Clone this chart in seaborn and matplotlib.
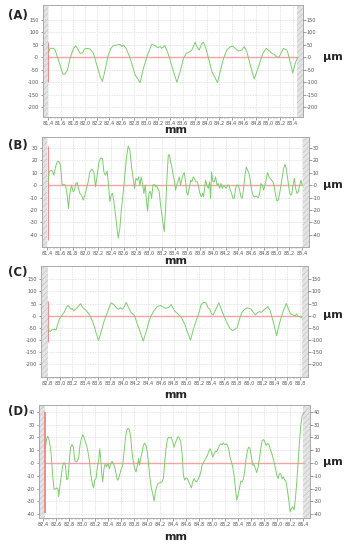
import matplotlib
matplotlib.use("Agg")
import matplotlib.pyplot as plt
import numpy as np
import pandas as pd
import seaborn as sns

# ---- profile A ----
a_mm = [81.400, 81.427, 81.482, 81.509, 81.537, 81.591, 81.635, 81.673, 81.711, 81.755,
        81.810, 81.848, 81.875, 81.919, 81.963, 81.990, 82.029, 82.083, 82.138, 82.193,
        82.247, 82.285, 82.329, 82.373, 82.422, 82.466, 82.520, 82.575, 82.602, 82.630,
        82.673, 82.739, 82.821, 82.903, 82.957, 83.023, 83.094, 83.149, 83.187, 83.231,
        83.258, 83.302, 83.340, 83.395, 83.449, 83.504, 83.558, 83.613, 83.657, 83.695,
        83.750, 83.804, 83.832, 83.870, 83.914, 83.941, 83.979, 84.023, 84.078, 84.170,
        84.214, 84.269, 84.323, 84.378, 84.422, 84.460, 84.515, 84.569, 84.608, 84.651,
        84.706, 84.772, 84.815, 84.870, 84.914, 84.968, 85.023, 85.061, 85.099, 85.132,
        85.176, 85.208, 85.252, 85.307, 85.334, 85.372, 85.405, 85.443, 85.482]
a_um = [16, 36, 36, 29, 9, -31, -68, -68, -51, -4,
        36, 45, 36, 16, 19, 33, 36, 33, 16, -31,
        -77, -97, -51, 3, 36, 47, 49, 52, 43, 49,
        36, -4, -71, -101, -44, 9, 52, 47, 39, 43,
        36, 47, 29, -11, -57, -100, -57, -4, 16, 19,
        29, 60, 43, 29, 56, 60, 36, -4, -57, -101,
        -57, -4, 29, 43, 45, 36, 25, 29, 43, 23,
        -31, -87, -57, -17, 16, 36, 25, 16, 12, 3,
        -1, 16, 36, 29, 9, -31, -63, -24, -1]

# ---- profile B ----
b_mm = [81.416, 81.431, 81.458, 81.484, 81.505, 81.531, 81.557, 81.583, 81.609, 81.636,
        81.662, 81.688, 81.714, 81.735, 81.756, 81.782, 81.808, 81.829, 81.850, 81.871,
        81.892, 81.913, 81.939, 81.965, 81.992, 82.018, 82.044, 82.070, 82.102, 82.133,
        82.159, 82.185, 82.212, 82.243, 82.269, 82.290, 82.316, 82.342, 82.363, 82.384,
        82.405, 82.426, 82.447, 82.479, 82.499, 82.515, 82.541, 82.562, 82.583, 82.604,
        82.625, 82.646, 82.672, 82.698, 82.725, 82.751, 82.772, 82.793, 82.814, 82.835,
        82.855, 82.876, 82.897, 82.918, 82.939, 82.960, 82.976, 82.997, 83.018, 83.039,
        83.060, 83.081, 83.102, 83.117, 83.138, 83.159, 83.180, 83.201, 83.222, 83.238,
        83.259, 83.280, 83.301, 83.316, 83.337, 83.358, 83.379, 83.400, 83.416, 83.431,
        83.452, 83.473, 83.494, 83.515, 83.536, 83.552, 83.573, 83.588, 83.609, 83.630,
        83.651, 83.672, 83.693, 83.714, 83.735, 83.756, 83.777, 83.798, 83.819, 83.840,
        83.855, 83.871, 83.887, 83.908, 83.929, 83.950, 83.965, 83.981, 84.002, 84.023,
        84.044, 84.065, 84.086, 84.107, 84.128, 84.149, 84.170, 84.191, 84.212, 84.232,
        84.253, 84.274, 84.295, 84.316, 84.337, 84.358, 84.379, 84.400, 84.421, 84.442,
        84.463, 84.484, 84.505, 84.526, 84.547, 84.568, 84.588, 84.609, 84.630, 84.651,
        84.672, 84.693, 84.714, 84.735, 84.756, 84.777, 84.798, 84.819, 84.840, 84.861,
        84.882, 84.903, 84.924, 84.945, 84.965, 84.986, 85.007, 85.028, 85.049, 85.070,
        85.091, 85.112, 85.133, 85.154, 85.175, 85.196, 85.217, 85.238, 85.259, 85.280,
        85.301, 85.321, 85.342, 85.363, 85.384, 85.405]
b_um = [2.7, 10.7, 12.1, 11.3, 8.0, 14.7, 18.8, 19.3, 16.1, 0.0,
        0.5, 0.0, -8.0, -18.8, -6.7, 0.0, -5.4, -4.0, 1.3, 2.1,
        -2.7, -6.7, -8.0, -12.1, -8.0, -2.7, 2.7, 10.7, 12.9, 10.7,
        -1.3, 8.0, 18.8, 22.0, 21.4, 10.7, 8.0, 11.3, 0.0, -13.4,
        -8.0, -6.7, -13.4, -26.8, -36.2, -42.9, -34.9, -21.4, -10.7, 0.0,
        10.7, 22.8, 31.6, 28.2, 14.7, 5.4, -2.7, 5.4, 4.0, 6.7,
        0.0, 6.7, 1.3, -6.7, 0.0, -13.4, -20.9, -6.7, -4.8, -10.7,
        0.0, 0.5, -1.3, 0.0, -2.7, -5.4, -16.1, -24.1, -32.2, -37.5,
        -18.8, 5.4, 24.1, 24.7, 18.8, 14.7, 8.0, 2.7, -4.0, 0.0,
        2.7, 6.7, 0.0, 5.4, 8.6, 10.2, 2.7, -5.4, -8.0, -2.7,
        4.0, 2.7, 6.7, 5.4, 2.7, 2.7, -1.3, -6.7, -9.4, -6.7,
        -9.4, -2.7, 4.0, 0.0, -2.7, 2.7, -10.7, 10.7, 2.7, 2.7,
        6.7, 0.0, 1.3, -2.7, 1.3, -2.7, 0.0, -1.3, -2.7, 0.0,
        0.0, -4.0, -6.7, -10.7, -10.7, -2.7, 0.0, 0.0, -4.0, -9.4,
        -10.7, -2.7, 8.0, 14.7, 12.1, 9.4, 4.0, -4.0, -8.0, -9.4,
        -8.8, -9.4, -10.2, -6.7, 1.3, 0.0, -4.0, 0.0, 5.4, 10.2,
        6.7, 5.4, 4.0, 2.7, -1.3, -8.0, -12.9, -12.1, -6.7, 0.0,
        6.7, 13.4, 16.9, 13.4, 5.4, -2.7, -8.0, -7.5, 0.0, 5.4,
        -2.7, -6.7, -5.4, 0.0, 4.0, 0.0]

# ---- profile C ----
c_mm = [82.811, 82.826, 82.847, 82.874, 82.900, 82.927, 82.942, 82.969, 82.995, 83.032,
        83.074, 83.101, 83.127, 83.154, 83.180, 83.196, 83.222, 83.259, 83.296, 83.328,
        83.365, 83.417, 83.470, 83.523, 83.576, 83.613, 83.655, 83.697, 83.734, 83.771,
        83.813, 83.855, 83.892, 83.929, 83.961, 83.993, 84.014, 84.051, 84.088, 84.130,
        84.183, 84.225, 84.278, 84.320, 84.367, 84.409, 84.446, 84.489, 84.541, 84.594,
        84.631, 84.673, 84.721, 84.763, 84.816, 84.869, 84.921, 84.974, 85.027, 85.069,
        85.111, 85.159, 85.196, 85.238, 85.275, 85.312, 85.344, 85.375, 85.402, 85.428,
        85.460, 85.491, 85.518, 85.555, 85.597, 85.639, 85.692, 85.734, 85.776, 85.808,
        85.845, 85.882, 85.924, 85.966, 86.019, 86.056, 86.093, 86.135, 86.161, 86.188,
        86.220, 86.256, 86.293, 86.330, 86.373, 86.409, 86.431, 86.462, 86.504, 86.547,
        86.584, 86.621, 86.652, 86.689, 86.726, 86.747, 86.768, 86.800, 86.832]
c_um = [-46, -59, -66, -59, -57, -57, -59, -33, -13, 0,
        16, 33, 42, 36, 26, 30, 20, 29, 39, 49,
        33, 22, 3, -26, -72, -103, -66, -26, 0, 26,
        53, 46, 33, 26, 33, 26, 33, 55, 33, 13,
        0, -33, -72, -105, -66, -26, 0, 20, 37, 42,
        37, 30, 33, 46, 20, 7, -7, -33, -72, -101,
        -59, -20, 7, 46, 55, 53, 33, 26, 7, 3,
        20, 39, 53, 26, 0, -26, -53, -62, -55, -50,
        -13, 13, 26, 32, 29, 16, 3, 13, 17, 13,
        21, 29, 37, 20, -20, -59, -82, -46, -7, 26,
        50, 26, 7, 3, 0, 7, -3, -4, -9]

# ---- profile D ----
d_mm = [82.436, 82.456, 82.472, 82.497, 82.523, 82.549, 82.569, 82.590, 82.610, 82.631,
        82.641, 82.662, 82.682, 82.703, 82.723, 82.744, 82.764, 82.785, 82.805, 82.826,
        82.846, 82.867, 82.887, 82.908, 82.928, 82.949, 82.969, 82.990, 83.010, 83.031,
        83.051, 83.072, 83.092, 83.113, 83.133, 83.164, 83.179, 83.195, 83.215, 83.236,
        83.256, 83.272, 83.287, 83.303, 83.318, 83.338, 83.359, 83.379, 83.400, 83.421,
        83.441, 83.462, 83.482, 83.503, 83.523, 83.544, 83.564, 83.585, 83.605, 83.626,
        83.646, 83.667, 83.687, 83.708, 83.728, 83.749, 83.769, 83.790, 83.810, 83.831,
        83.851, 83.872, 83.882, 83.903, 83.923, 83.944, 83.964, 83.985, 84.005, 84.026,
        84.046, 84.067, 84.087, 84.108, 84.128, 84.149, 84.169, 84.190, 84.210, 84.231,
        84.251, 84.272, 84.292, 84.313, 84.333, 84.354, 84.374, 84.395, 84.415, 84.436,
        84.456, 84.477, 84.497, 84.518, 84.538, 84.559, 84.579, 84.600, 84.621, 84.641,
        84.662, 84.682, 84.703, 84.723, 84.744, 84.764, 84.785, 84.805, 84.826, 84.846,
        84.867, 84.887, 84.908, 84.928, 84.949, 84.969, 84.990, 85.010, 85.031, 85.051,
        85.072, 85.092, 85.113, 85.133, 85.154, 85.174, 85.195, 85.215, 85.236, 85.256,
        85.277, 85.297, 85.318, 85.338, 85.359, 85.379, 85.400, 85.421, 85.441, 85.462,
        85.482, 85.503, 85.523, 85.544, 85.564, 85.585, 85.605, 85.626, 85.646, 85.667,
        85.687, 85.708, 85.728, 85.749, 85.769, 85.790, 85.810, 85.831, 85.851, 85.872,
        85.892, 85.913, 85.933, 85.954, 85.974, 85.995, 86.015, 86.036, 86.056, 86.077,
        86.097, 86.118, 86.138, 86.159, 86.179, 86.200, 86.221, 86.241, 86.262, 86.282,
        86.303, 86.323, 86.344, 86.364, 86.385, 86.405, 86.426]
d_um = [11.1, 18.8, 20.9, 17.5, 8.5, -9.5, -20.4, -20.4, -19.4, -20.4,
        -26.3, -17.3, -9.5, -1.8, 0.3, -1.8, -12.9, -12.1, 2.1, 12.4,
        14.5, 12.4, 2.1, 0.8, 1.3, 4.6, 13.7, 18.8, 22.2, 20.1,
        16.3, 13.7, 8.5, 2.1, -8.3, -17.3, -19.4, -13.4, -12.1, -3.1,
        2.1, 11.1, 3.9, -8.3, -14.7, -4.4, -0.5, -3.1, -0.5, -4.4,
        -0.5, 1.3, -0.5, -3.1, -8.3, -13.4, -12.1, -8.3, -4.4, -1.8,
        8.5, 18.8, 25.3, 27.1, 26.1, 20.1, 8.5, 0.8, -4.4, -7.0,
        -1.8, 3.4, -1.8, 3.4, 8.5, 13.7, 15.5, 13.7, 8.5, -1.8,
        -12.1, -19.9, -23.7, -29.7, -22.5, -18.6, -16.0, -15.5, -15.2, -14.7,
        -12.1, 0.8, 11.1, 18.8, 20.1, 19.4, 20.1, 16.3, 12.4, 15.7,
        18.3, 20.6, 19.4, 16.3, 8.5, -9.5, -13.4, -11.6, -12.1, -14.7,
        -17.3, -19.4, -14.7, -12.1, -14.2, -14.7, -12.6, -10.8, -7.0, -1.8,
        0.3, 2.1, 3.9, 5.9, 9.0, 11.1, 8.5, 4.6, 7.2, 9.0,
        9.0, 11.1, 13.7, 15.0, 14.2, 15.7, 14.2, 15.0, 13.7, 11.1,
        4.6, 0.8, -3.1, -9.5, -19.9, -28.9, -25.0, -19.9, -14.2, -14.7,
        -12.6, -5.7, 3.4, 9.8, 12.4, 11.1, 4.6, -1.8, -1.3, -4.4,
        -7.5, -3.1, 3.4, 11.1, 17.5, 18.3, 16.8, 13.7, 15.0, 15.0,
        11.1, 8.5, 4.6, 0.8, -4.4, -9.5, -12.1, -8.3, -8.3, -12.1,
        -10.8, -13.4, -14.7, -21.2, -28.9, -37.9, -35.4, -34.1, -36.6, -27.6,
        -14.7, 0.8, 16.3, 29.2, 36.9, 38.7, 39.5]

letters = ["(A)", "(B)", "(C)", "(D)"]
x_ticks = [np.arange(81.4, 85.41, 0.2), np.arange(81.4, 85.41, 0.2),
           np.arange(82.8, 86.81, 0.2), np.arange(82.4, 86.41, 0.2)]
y_ticks = [np.arange(-200, 151, 50), np.arange(-40, 31, 10),
           np.arange(-200, 151, 50), np.arange(-40, 41, 10)]
x_lims = [(81.31, 85.57), (81.317, 85.508), (82.70, 86.925), (82.34, 86.51)]
y_lims = [(-240, 210), (-50, 39), (-253, 205), (-43, 45)]
# grey end zones (left, right) and red start marker (x, y0, y1)
zones = [((81.31, 81.40), (85.47, 85.57)), ((81.317, 81.395), (85.414, 85.508)),
         ((82.70, 82.81), (86.83, 86.925)), ((82.34, 82.43), (86.40, 86.51))]
markers = [(81.40, -100, 63), (81.41, -44, 32), (82.81, -108, 59), (82.43, -39, 39.5)]

profiles = [(a_mm, a_um), (b_mm, b_um), (c_mm, c_um), (d_mm, d_um)]
# axes rects in figure fraction
rects = [(0.123, 0.787, 0.745, 0.204), (0.120, 0.551, 0.765, 0.200),
         (0.117, 0.3145, 0.765, 0.202), (0.112, 0.058, 0.777, 0.205)]
letter_y = [16, 145, 272, 412]
mm_y = [130, 261, 395, 537]
um_y = [57, 185, 315, 462]

sns.set_style("white")
plt.rcParams['font.family'] = ['DejaVu Sans']
plt.rcParams['hatch.linewidth'] = 0.35
plt.rcParams['hatch.color'] = '#b8b8b8'

fig = plt.figure(figsize=(3.49, 5.5), dpi=100)
W, H = 349, 550

def ylab(v):
    return "-0" if v == 0 else f"{int(v)}"

for i in range(4):
    ax = fig.add_axes(rects[i])
    mm, um = profiles[i]
    df = pd.DataFrame({"mm": mm, "um": um})

    ax.set_xlim(*x_lims[i])
    ax.set_ylim(*y_lims[i])

    for z0, z1 in zones[i]:
        ax.axvspan(z0, z1, facecolor='#e4e4e4', edgecolor='#b8b8b8', hatch='//////', lw=0, zorder=1)

    ax.set_xticks(x_ticks[i])
    ax.set_xticks(np.arange(x_ticks[i][0], x_ticks[i][-1] + 0.01, 0.05), minor=True)
    ax.set_xticklabels([f"{v:.1f}".replace('.', ',') for v in x_ticks[i]])
    ax.set_yticks(y_ticks[i])
    ax.set_yticklabels([ylab(v) for v in y_ticks[i]])
    ax.grid(True, which='major', color='#dcdcdc', ls=(0, (2, 1.5)), lw=0.5, zorder=0)
    ax.set_axisbelow(True)

    ax.hlines(0, mm[0], mm[-1], color='#f5a3a3', lw=1.0, zorder=2)
    mx, my0, my1 = markers[i]
    ax.vlines(mx, my0, my1, color='#f08080', lw=0.8 if i < 3 else 1.4, alpha=0.9, zorder=2)

    sns.lineplot(data=df, x="mm", y="um", ax=ax, color='#7dcc6e', lw=0.7,
                 sort=False, estimator=None, zorder=3)
    ax.set_xlabel("")
    ax.set_ylabel("")

    ax.tick_params(axis='both', which='major', labelsize=3.6, length=1.8, width=0.4,
                   colors='#555555', pad=1, direction='out')
    ax.tick_params(axis='x', which='minor', length=1.2, width=0.3, color='#777777', direction='out')
    ax.tick_params(axis='x', which='both', bottom=True)
    ax.tick_params(axis='y', left=True)
    for s in ax.spines.values():
        s.set_color('#aaaaaa')
        s.set_linewidth(0.7)

    ax2 = ax.twinx()
    ax2.set_ylim(*y_lims[i])
    ax2.set_yticks(y_ticks[i])
    ax2.set_yticklabels([ylab(v) for v in y_ticks[i]])
    ax2.tick_params(axis='y', labelsize=3.6, length=1.8, width=0.4, colors='#555555',
                    pad=1, direction='out', right=True)
    for s in ax2.spines.values():
        s.set_visible(False)

    fig.text(8 / W, 1 - letter_y[i] / H, letters[i], fontsize=8.5, fontweight='bold',
             ha='left', va='center')
    fig.text(176 / W, 1 - mm_y[i] / H, "mm", fontsize=8, fontweight='bold',
             ha='center', va='center')
    fig.text(333 / W, 1 - um_y[i] / H, "µm", fontsize=8, fontweight='bold',
             ha='center', va='center')

fig.savefig("out.png", dpi=100)
